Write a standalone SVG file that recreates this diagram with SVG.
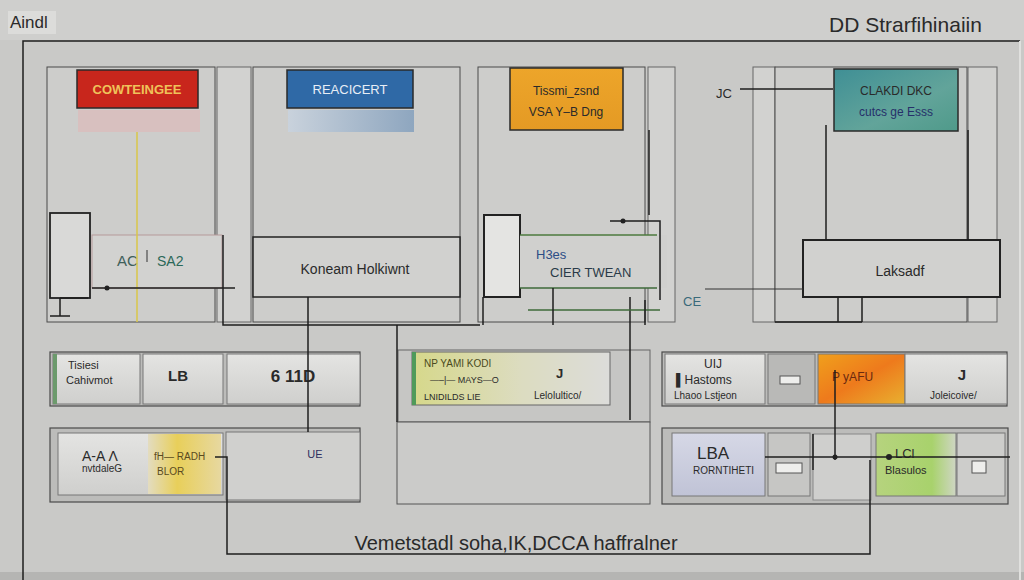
<svg xmlns="http://www.w3.org/2000/svg" width="1024" height="580" viewBox="0 0 1024 580">
<defs>
<linearGradient id="gCell" x1="0" y1="0" x2="0" y2="1"><stop offset="0" stop-color="#e4e4e2"/><stop offset="1" stop-color="#cfcfcd"/></linearGradient>
<linearGradient id="gBlueBand" x1="0" y1="0" x2="1" y2="0"><stop offset="0" stop-color="#c9d2dc"/><stop offset="1" stop-color="#8ea6bf"/></linearGradient>
<linearGradient id="gTeal" x1="0" y1="0" x2="1" y2="1"><stop offset="0" stop-color="#3f8f95"/><stop offset="0.6" stop-color="#62a49a"/><stop offset="1" stop-color="#4f9a8a"/></linearGradient>
<linearGradient id="gOrange" x1="0" y1="0" x2="0" y2="1"><stop offset="0" stop-color="#eda52a"/><stop offset="1" stop-color="#e49a24"/></linearGradient>
<linearGradient id="gHot" x1="0" y1="0" x2="1" y2="1"><stop offset="0" stop-color="#f0a01c"/><stop offset="0.5" stop-color="#ee7a1c"/><stop offset="1" stop-color="#e8b030"/></linearGradient>
<linearGradient id="gYel" x1="0" y1="0" x2="1" y2="0"><stop offset="0" stop-color="#e3dcc0"/><stop offset="0.4" stop-color="#e8cf5a"/><stop offset="1" stop-color="#e7d8a0"/></linearGradient>
<linearGradient id="gYG" x1="0" y1="0" x2="1" y2="0"><stop offset="0" stop-color="#d6d88a"/><stop offset="0.55" stop-color="#dcdcc0"/><stop offset="1" stop-color="#dcdcda"/></linearGradient>
<linearGradient id="gGreen" x1="0" y1="0" x2="1" y2="0"><stop offset="0" stop-color="#b6d37e"/><stop offset="0.7" stop-color="#a8d26c"/><stop offset="1" stop-color="#cfd6c4"/></linearGradient>
<linearGradient id="gLav" x1="0" y1="0" x2="0" y2="1"><stop offset="0" stop-color="#d6d8e6"/><stop offset="1" stop-color="#c0c3d6"/></linearGradient>
<style>
.t{font-family:"Liberation Sans",Arial,sans-serif;fill:#2a2a2a}
.panel{fill:#cdcdcb;stroke:#4a4a4a;stroke-width:1}
.narrow{fill:#d2d2d0;stroke:#666;stroke-width:1}
.row{fill:#bcbcba;stroke:#4a4a4a;stroke-width:1.2}
.cell{fill:url(#gCell);stroke:#777;stroke-width:1}
.box{fill:#d1d1cf;stroke:#222;stroke-width:1.5}
.ln{fill:none;stroke:#1e1e1e;stroke-width:1.5}
.lnt{fill:none;stroke:#333;stroke-width:1}
.icon{fill:#eeeeec;stroke:#555;stroke-width:1}
</style>
</defs>
<rect width="1024" height="580" fill="#c9c9c7"/>
<rect width="1024" height="40" fill="#cfcfcd"/>
<rect y="572" width="1024" height="8" fill="#b5b5b3"/>

<g id="title-left"><rect x="8" y="11" width="48" height="23" fill="#dcdcda"/><text class="t" x="10" y="28" font-size="17">Aindl</text></g>
<g id="title-right"><text class="t" x="829" y="32" font-size="21">DD Strarfihinaiin</text></g>

<g id="frame"><path class="ln" d="M23 580 V41 H1020"/><line x1="1020" y1="41" x2="1020" y2="580" stroke="#e0e0de" stroke-width="2"/></g>

<g id="panel-1"><rect class="panel" x="47" y="67" width="168" height="255"/></g>
<g id="panel-2a"><rect class="narrow" x="217" y="67" width="34" height="255"/></g>
<g id="panel-2"><rect class="panel" x="253" y="67" width="207" height="255"/></g>
<g id="panel-3"><rect class="panel" x="478" y="67" width="167" height="255"/></g>
<g id="panel-3a"><rect class="narrow" x="648" y="67" width="27" height="255"/></g>
<g id="panel-4a"><rect class="narrow" x="753" y="67" width="22" height="255"/></g>
<g id="panel-4"><rect class="panel" x="775" y="67" width="192" height="255"/></g>
<g id="panel-4b"><rect class="narrow" x="968" y="67" width="29" height="255"/></g>

<g id="label-red"><rect x="78" y="110" width="122" height="22" fill="#d8c0bf"/><rect x="77" y="70" width="121" height="38" fill="#c8261c" stroke="#2a2a2a" stroke-width="1.5"/><text class="t" x="137" y="94" font-size="13" font-weight="bold" text-anchor="middle" style="fill:#efc25a">COWTEINGEE</text></g>
<g id="label-blue"><rect x="288" y="110" width="126" height="22" fill="url(#gBlueBand)"/><rect x="287" y="70" width="126" height="38" fill="#2f69a6" stroke="#2a2a2a" stroke-width="1.5"/><text class="t" x="350" y="94" font-size="13" text-anchor="middle" style="fill:#e8eef6">REACICERT</text></g>
<g id="label-orange"><rect x="510" y="68" width="113" height="62" fill="url(#gOrange)" stroke="#2a2a2a" stroke-width="1.5"/><text class="t" x="566" y="95" font-size="12" text-anchor="middle">Tissmi_zsnd</text><text class="t" x="566" y="116" font-size="12" text-anchor="middle">VSA Y–B Dng</text></g>
<g id="label-teal"><rect x="834" y="69" width="124" height="62" fill="url(#gTeal)" stroke="#2a2a2a" stroke-width="1.5"/><text class="t" x="896" y="95" font-size="12" text-anchor="middle">CLAKDI DKC</text><text class="t" x="896" y="116" font-size="12" text-anchor="middle" style="fill:#26306a">cutcs ge Esss</text></g>
<g id="label-jc"><text class="t" x="716" y="98" font-size="13">JC</text></g>

<g id="node-small"><rect x="50" y="213" width="40" height="85" fill="#d9d9d7" stroke="#222" stroke-width="1.8"/></g>
<g id="node-ac"><rect x="92" y="235" width="130" height="53" fill="#d2d2d0" stroke="#b59a9a" stroke-width="1"/><text class="t" x="117" y="266" font-size="15" style="fill:#40605a">AC</text><text class="t" x="157" y="266" font-size="14" style="fill:#2b6858">SA2</text></g>
<g id="node-koneam"><rect class="box" x="253" y="237" width="207" height="60"/><text class="t" x="355" y="274" font-size="14" text-anchor="middle">Koneam Holkiwnt</text></g>
<g id="node-white"><rect x="484" y="215" width="36" height="82" fill="#e4e4e2" stroke="#222" stroke-width="2"/></g>
<g id="node-h3es"><rect x="520" y="235" width="147" height="53" fill="#d0d0ce"/><line x1="520" y1="235" x2="657" y2="235" stroke="#4d7a3e" stroke-width="1.5"/><line x1="520" y1="288" x2="657" y2="288" stroke="#3e6a3a" stroke-width="1.5"/><text class="t" x="536" y="259" font-size="13" style="fill:#2c4d86">H3es</text><text class="t" x="550" y="277" font-size="13" style="fill:#2a3a48">CIER TWEAN</text></g>
<g id="label-ce"><text class="t" x="683" y="306" font-size="13" style="fill:#3a6a7a">CE</text></g>
<g id="node-laksadf"><rect x="803" y="240" width="197" height="57" fill="#d1d1cf" stroke="#222" stroke-width="2"/><text class="t" x="900" y="276" font-size="14" text-anchor="middle">Laksadf</text></g>

<g id="row1-left"><rect class="row" x="50" y="352" width="310" height="54"/>
<rect class="cell" x="53" y="354" width="87" height="50"/><rect x="53" y="354" width="4" height="50" fill="#6c9a6c"/><text class="t" x="68" y="369" font-size="11">Tisiesi</text><text class="t" x="66" y="384" font-size="11">Cahivmot</text>
<rect class="cell" x="143" y="354" width="80" height="50"/><text class="t" x="168" y="381" font-size="15" font-weight="bold">LB</text>
<rect class="cell" x="227" y="354" width="133" height="50"/><text class="t" x="293" y="382" font-size="17" font-weight="bold" text-anchor="middle">6 11D</text></g>
<g id="row1-mid"><rect x="398" y="350" width="252" height="72" fill="#c6c6c4" stroke="#666" stroke-width="1"/>
<rect x="412" y="352" width="198" height="53" fill="url(#gYG)" stroke="#666" stroke-width="1"/><rect x="412" y="352" width="4" height="53" fill="#4f9a5a"/>
<text class="t" x="424" y="367" font-size="10" style="fill:#4a4a20">NP YAMI KODI</text><text class="t" x="430" y="383" font-size="9">—–|— MAYS—O</text><text class="t" x="424" y="400" font-size="9">LNIDILDS LIE</text>
<text class="t" x="556" y="378" font-size="13" font-weight="bold">J</text><text class="t" x="534" y="399" font-size="10">Lelolultico/</text></g>
<g id="row1-right"><rect class="row" x="662" y="352" width="345" height="54"/>
<rect class="cell" x="665" y="354" width="100" height="50"/><text class="t" x="704" y="368" font-size="12">UIJ</text><text class="t" x="676" y="384" font-size="12">▌Hastoms</text><text class="t" x="674" y="399" font-size="10">Lhaoo Lstjeon</text>
<rect x="768" y="354" width="47" height="50" fill="#b9b9b7" stroke="#777"/><rect class="icon" x="780" y="376" width="20" height="8"/>
<rect x="818" y="354" width="87" height="50" fill="url(#gHot)" stroke="#777"/><text class="t" x="832" y="381" font-size="12" style="fill:#6a2a10">P yAFU</text>
<rect class="cell" x="905" y="354" width="102" height="50"/><text class="t" x="962" y="380" font-size="15" font-weight="bold" text-anchor="middle">J</text><text class="t" x="930" y="399" font-size="10">Joleicoive/</text></g>

<g id="row2-left"><rect class="row" x="50" y="428" width="310" height="74"/>
<rect class="cell" x="58" y="433" width="165" height="62"/><rect x="148" y="434" width="73" height="60" fill="url(#gYel)"/>
<text class="t" x="82" y="461" font-size="14">A-A Λ</text><text class="t" x="82" y="472" font-size="10">nvtdaleG</text>
<text class="t" x="154" y="460" font-size="10" style="fill:#5a4a20">fH— RADH</text><text class="t" x="157" y="475" font-size="10" style="fill:#5a4a20">BLOR</text>
<rect x="226" y="432" width="134" height="68" fill="#d0d0ce" stroke="#777"/><text class="t" x="315" y="458" font-size="11" text-anchor="middle" style="fill:#303060">UE</text></g>
<g id="row2-mid"><rect x="397" y="422" width="253" height="82" fill="#cbcbc9" stroke="#555" stroke-width="1"/></g>
<g id="row2-right"><rect class="row" x="662" y="428" width="346" height="76"/>
<rect x="672" y="433" width="93" height="63" fill="url(#gLav)" stroke="#777"/><text class="t" x="697" y="459" font-size="17">LBA</text><text class="t" x="693" y="474" font-size="10">RORNTIHETI</text>
<rect x="768" y="433" width="42" height="63" fill="#c6c6c4" stroke="#777"/><rect class="icon" x="776" y="463" width="26" height="10"/>
<rect x="813" y="434" width="58" height="66" fill="#cfcfcd" stroke="#888"/>
<rect x="876" y="433" width="80" height="63" fill="url(#gGreen)" stroke="#777"/><text class="t" x="895" y="458" font-size="13">LCl</text><text class="t" x="885" y="474" font-size="11">Blasulos</text>
<rect x="957" y="433" width="48" height="63" fill="#cdcdcb" stroke="#777"/><rect class="icon" x="972" y="461" width="14" height="12"/></g>

<g id="caption"><text class="t" x="516" y="550" font-size="20" text-anchor="middle">Vemetstadl soha,IK,DCCA haffralner</text></g>

<g id="connectors">
<line x1="137" y1="132" x2="137" y2="322" stroke="#d8c64a" stroke-width="1.5"/>
<path class="ln" d="M740 89 H833"/>
<path class="ln" d="M826 125 V240"/>
<path class="ln" d="M968 130 V240"/>
<path class="ln" d="M649 130 V215"/>
<path class="ln" d="M92 288 H235"/>
<circle cx="107" cy="288" r="2.5" fill="#222"/>
<path class="ln" d="M60 298 V316 M50 316 H70 M60 298 H88"/>
<path class="lnt" d="M147 250 V262"/>
<path class="ln" d="M223 235 V325 H480"/>
<path class="ln" d="M483 297 V325"/>
<path class="ln" d="M308 297 V432"/>
<path class="ln" d="M397 325 V422"/>
<path class="ln" d="M630 297 V420"/>
<path class="ln" d="M610 221 H660 V300"/>
<circle cx="623" cy="221" r="2.5" fill="#222"/>
<path d="M528 310 H660" stroke="#3e6a3a" stroke-width="1.5" fill="none"/>
<path class="ln" d="M553 288 V325 M645 300 V325"/>
<path class="lnt" d="M705 289 H803"/>
<path class="ln" d="M838 297 V322 M862 297 V322 M775 322 H862"/>
<path class="ln" d="M215 457 H227 V554 H870 V460"/>
<path class="ln" d="M835 370 V460"/>
<path class="ln" d="M765 457 H1010"/>
<circle cx="835" cy="457" r="2.5" fill="#222"/>
<circle cx="889" cy="457" r="3" fill="#222"/>
<path class="ln" d="M813 434 V470"/>
</g>
</svg>
